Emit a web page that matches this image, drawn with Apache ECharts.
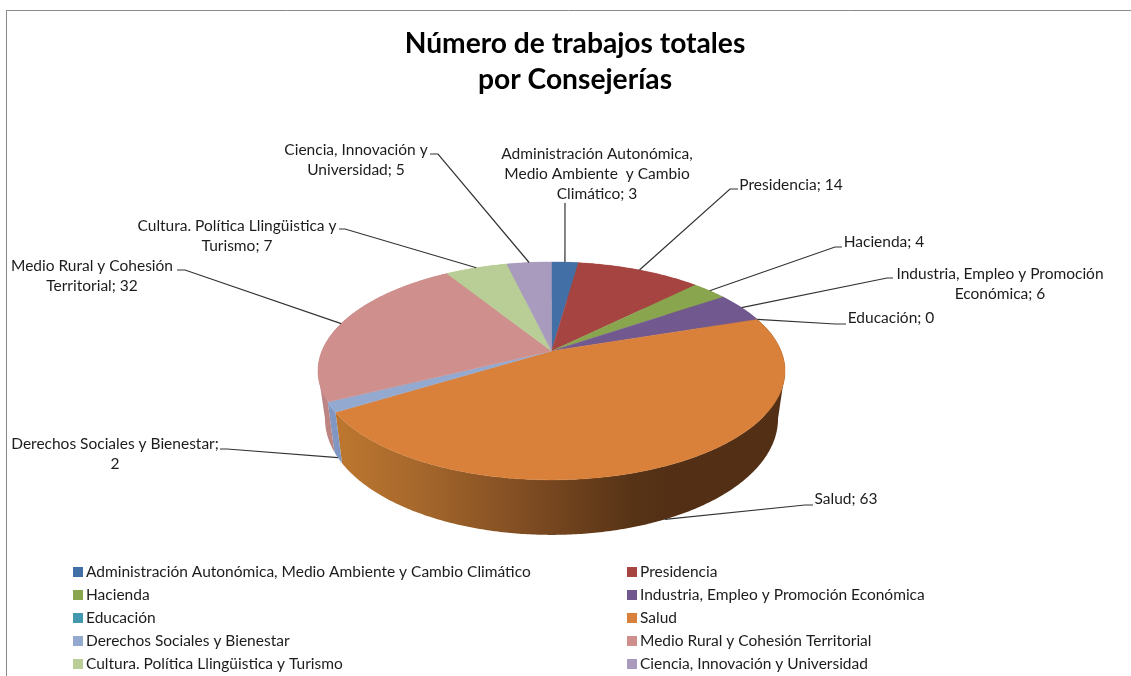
<!DOCTYPE html>
<html>
<head>
<meta charset="utf-8">
<style>html,body{margin:0;padding:0;background:#fff}#c{width:1131px;height:676px}</style>
<script src="https://cdn.jsdelivr.net/npm/echarts@6/dist/echarts.min.js"></script>
</head>
<body>
<div id="c"></div>
<script>
const categories = ['Administración Autonómica, Medio Ambiente y Cambio Climático','Presidencia','Hacienda','Industria, Empleo y Promoción Económica','Educación','Salud','Derechos Sociales y Bienestar','Medio Rural y Cohesión Territorial','Cultura. Política Llingüistica y Turismo','Ciencia, Innovación y Universidad'];
const values = [3,14,4,6,0,63,2,32,7,5];
const colors = ['#4270A6','#A64442','#89A54E','#71588F','#4198AF','#D9803A','#93A9CF','#CF8F8D','#B9CD96','#A99BBD'];
const labelTexts = ['Administración Autonómica,\nMedio Ambiente  y Cambio\nClimático; {v}','Presidencia; {v}','Hacienda; {v}','Industria, Empleo y Promoción\nEconómica; {v}','Educación; {v}','Salud; {v}','Derechos Sociales y Bienestar;\n{v}','Medio Rural y Cohesión\nTerritorial; {v}','Cultura. Política Llingüistica y\nTurismo; {v}','Ciencia, Innovación y\nUniversidad; {v}'];

// Layout only: label centre, leader elbow points, whether the leader lands on the lower rim
const labelPos = [[597,174],[791,185],[884,242],[1000,284],[891,318],[846,499],[115,454],[92,276],[237,236],[356,160]];
const leaderElbows = [[[565,203]],[[738,189],[730,189]],[[842,247],[835,247]],[[893,278],[887,278]],[[846,324],[835,324]],[[813,505],[805,505]],[[220,449],[227,449]],[[177,270],[185,270]],[[339,229],[345,229]],[[430,154],[438,154]]];
const onLowerRim = [0,0,0,0,0,1,1,0,0,0];

const FONT = 'Lato';
const LABEL_SIZE = 15.5;
const P = {cx:551.5, cy:351, R:229.6, A:105.3, k:0.183};
const total = values.reduce((a,b)=>a+b,0);
const cum = []; values.reduce((a,b,i)=>{cum[i]=a;return a+b;},0);
function topPt(t){ const u=Math.sin(t), v=-Math.cos(t), w=1-P.k*v; return [P.cx+P.R*u/w, P.cy+P.A*v/w]; }
function lowPt(t){ const p=topPt(t), v=-Math.cos(t); return [P.cx+0.97*(p[0]-P.cx), p[1]+46+9*v]; }
function ang(c){ return c/total*2*Math.PI; }
function arc(fn,a,b){ const n=Math.max(2,Math.ceil(Math.abs(b-a)/0.01)), r=[]; for(let i=0;i<=n;i++) r.push(fn(a+(b-a)*i/n)); return r; }
const silR = Math.acos(-P.k), silL = 2*Math.PI-silR;

const wallColors = colors.slice();
wallColors[5] = {type:'linear',x:340,y:0,x2:665,y2:0,global:true,colorStops:[
  {offset:0,color:'#BC762F'},{offset:0.25,color:'#A5672C'},{offset:0.6,color:'#7C4A21'},{offset:0.9,color:'#573316'},{offset:1,color:'#533015'}]};
wallColors[6] = '#7F97C2';
wallColors[7] = '#BC8583';

const wallSeries = {
  type:'custom', name:'paredes', coordinateSystem:'none', silent:true, z:1,
  data: values.map((v,i)=>[v,i]),
  renderItem(params,api){
    const i=params.dataIndex, v=api.value(0); if(!v) return null;
    const a=ang(cum[i]), b=ang(cum[i]+v);
    const style={fill:wallColors[i]};
    const kids=[{type:'polygon',shape:{points:arc(topPt,a,b).concat(arc(lowPt,a,b).reverse())},style}];
    // tangent filler where the rim turns away, so the silhouette has no notch
    if(a<silR&&silR<b) kids.push({type:'polygon',shape:{points:[topPt(silR),lowPt(silR),topPt(Math.min(b,silR+0.4))]},style});
    if(a<silL&&silL<b) kids.push({type:'polygon',shape:{points:[topPt(silL),lowPt(silL),topPt(Math.max(a,silL-0.3))]},style});
    return {type:'group',children:kids};
  }
};
const sliceSeries = categories.map((name,i)=>({
  type:'custom', name, coordinateSystem:'none', silent:true, z:2,
  itemStyle:{color:colors[i]},
  data:[[values[i]]],
  renderItem(params,api){
    const v=api.value(0); if(!v) return null;
    const pts=[[P.cx,P.cy]].concat(arc(topPt,ang(cum[i]),ang(cum[i]+v)));
    return {type:'polygon',shape:{points:pts},style:{fill:colors[i],stroke:colors[i],lineWidth:0.4}};
  }
}));
const labelSeries = {
  type:'custom', name:'etiquetas', coordinateSystem:'none', silent:true, z:3,
  data: values.map((v,i)=>[v,i]),
  renderItem(params,api){
    const i=params.dataIndex, v=api.value(0);
    const mid=ang(cum[i]+v/2);
    const end=onLowerRim[i]?lowPt(mid):topPt(mid);
    return {type:'group',children:[
      {type:'polyline',shape:{points:leaderElbows[i].concat([end])},style:{stroke:'#333',lineWidth:1.2,fill:null}},
      {type:'text',style:{text:labelTexts[i].replace('{v}',v),x:labelPos[i][0],y:labelPos[i][1],align:'center',verticalAlign:'middle',lineHeight:20,font:LABEL_SIZE+'px '+FONT,fill:'#1c1c1c'}}
    ]};
  }
};
const legendBase = {orient:'vertical',top:564,itemWidth:10,itemHeight:10,itemGap:7,icon:'rect',padding:0,selectedMode:false,
  textStyle:{fontFamily:FONT,fontSize:LABEL_SIZE,color:'#1c1c1c',lineHeight:16,padding:[0,0,0,-2]}};
const chart = echarts.init(document.getElementById('c'),null,{renderer:'canvas'});
chart.setOption({
  animation:false,
  backgroundColor:'#fff',
  title:{text:'Número de trabajos totales\npor Consejerías',left:575,top:26,textAlign:'center',padding:0,
    textStyle:{fontFamily:FONT,fontWeight:'bold',fontSize:28.2,lineHeight:36,color:'#000'}},
  legend:[
    Object.assign({},legendBase,{left:73,data:categories.filter((c,i)=>i%2===0)}),
    Object.assign({},legendBase,{left:627,data:categories.filter((c,i)=>i%2===1)})
  ],
  graphic:[
    {type:'line',silent:true,shape:{x1:6,y1:10.5,x2:1131,y2:10.5},style:{stroke:'#8a8a8a',lineWidth:1}},
    {type:'line',silent:true,shape:{x1:6.5,y1:10,x2:6.5,y2:676},style:{stroke:'#8a8a8a',lineWidth:1}}
  ],
  series:[wallSeries].concat(sliceSeries,[labelSeries])
});
</script>
</body>
</html>
